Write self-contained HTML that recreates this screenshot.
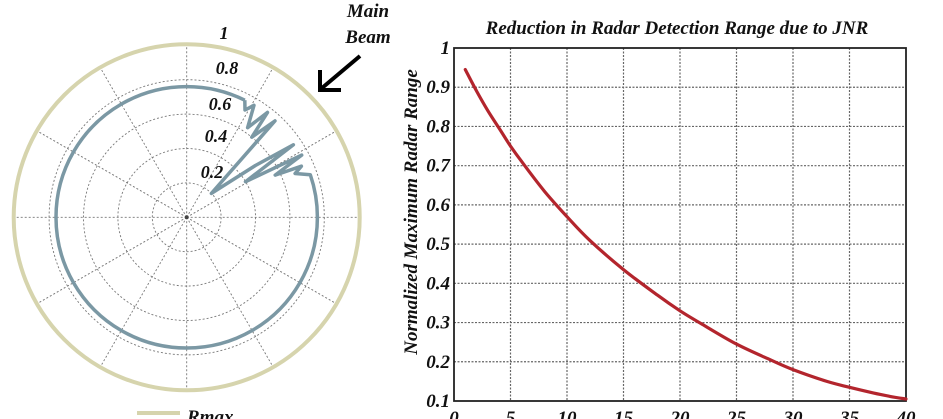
<!DOCTYPE html>
<html><head><meta charset="utf-8">
<style>
html,body{margin:0;padding:0;background:#fff;}
svg{display:block;}
text{font-family:"Liberation Serif",serif;font-style:italic;font-weight:bold;fill:#111;}
</style></head>
<body>
<svg id="chart" width="943" height="419" viewBox="0 0 943 419" xmlns="http://www.w3.org/2000/svg">
  <g id="polar"></g>
  <g id="line"></g>
</svg>
<script>
// ---- Polar chart data ----
const polarRingValues = [0.2, 0.4, 0.6, 0.8];
const polarRingLabels = ["0.2", "0.4", "0.6", "0.8", "1"];
const polarSpokeAngles = [0, 30, 60, 90, 120, 150, 180, 210, 240, 270, 300, 330];
const lobeAngles = [63.6, 61.5, 59, 55.8, 52.4, 50.9, 47.5, 44, 37, 34.2, 31.2, 28.4, 25.5, 24, 22, 19];
const lobeRadii  = [0.76, 0.71, 0.76, 0.63, 0.77, 0.60, 0.76, 0.20, 0.50, 0.75, 0.40, 0.76, 0.57, 0.73, 0.68, 0.76];
const circleAngles = [19, 0, -30, -60, -90, -120, -150, -180, -210, -240, -270, -296.4];
const circleRadii  = [0.76, 0.76, 0.76, 0.76, 0.76, 0.76, 0.76, 0.76, 0.76, 0.76, 0.76, 0.76];
const rmaxValue = [1.0];

// ---- Line chart data ----
const jnrValues = [1, 2, 3, 4, 5, 6, 8, 10, 12, 15, 18, 20, 22, 25, 28, 30, 33, 35, 38, 40];
const rangeValues = [0.945, 0.89, 0.84, 0.795, 0.75, 0.71, 0.635, 0.57, 0.51, 0.435, 0.37, 0.33, 0.295, 0.245, 0.205, 0.18, 0.15, 0.135, 0.115, 0.105];
const xTicks = [0, 5, 10, 15, 20, 25, 30, 35, 40];
const yTicks = [0.1, 0.2, 0.3, 0.4, 0.5, 0.6, 0.7, 0.8, 0.9, 1];
const yTickLabels = ["0.1", "0.2", "0.3", "0.4", "0.5", "0.6", "0.7", "0.8", "0.9", "1"];

const NS = "http://www.w3.org/2000/svg";
function mk(tag, attrs, parent) {
  const e = document.createElementNS(NS, tag);
  for (const k in attrs) e.setAttribute(k, attrs[k]);
  parent.appendChild(e);
  return e;
}

// ---- Polar ----
const P = document.getElementById('polar');
const cx = 186.7, cy = 217.3, R = 172;
function pr(v) { return v * R; }
function px(a, v) { return cx + pr(v) * Math.cos(a * Math.PI / 180); }
function py(a, v) { return cy - pr(v) * Math.sin(a * Math.PI / 180); }

polarRingValues.forEach(v => {
  const c = mk('circle', {cx: cx, cy: cy, r: pr(v), fill: 'none', stroke: '#777', 'stroke-width': 0.9, 'stroke-dasharray': '2,2'}, P);
  
  
});
polarSpokeAngles.forEach(a => {
  const l = mk('line', {x1: cx, y1: cy, x2: px(a, 1.02), y2: py(a, 1.02), stroke: '#777', 'stroke-width': 0.9, 'stroke-dasharray': '2,2'}, P);
  
  
});
const rm = mk('circle', {cx: cx, cy: cy, r: pr(rmaxValue[0]) + 1, fill: 'none', stroke: '#d6d4ad', 'stroke-width': 4}, P);


mk('circle', {cx: cx, cy: cy, r: 2, fill: '#444'}, P);

let pts = [];
lobeAngles.forEach((a, i) => pts.push(px(a, lobeRadii[i]).toFixed(1) + ',' + py(a, lobeRadii[i]).toFixed(1)));
let d = 'M' + pts.join(' L');
for (let i = 1; i < circleAngles.length; i++) {
  const a = circleAngles[i], v = circleRadii[i];
  d += ` A${pr(v)},${pr(v)} 0 0 1 ${px(a, v).toFixed(1)},${py(a, v).toFixed(1)}`;
}
const pat = mk('path', {d: d, fill: 'none', stroke: '#7b98a4', 'stroke-width': 3.5, 'stroke-linejoin': 'round'}, P);



const ringLabelPos = [[212, 178], [216, 142], [220, 110], [227, 74], [224, 39]];
polarRingLabels.forEach((s, i) => {
  const t = mk('text', {x: ringLabelPos[i][0], y: ringLabelPos[i][1], 'text-anchor': 'middle', 'font-size': 18}, P);
  t.textContent = s;
  
  
});
const mb1 = mk('text', {x: 368, y: 17, 'text-anchor': 'middle', 'font-size': 19}, P);
mb1.textContent = 'Main';


const mb2 = mk('text', {x: 368, y: 43, 'text-anchor': 'middle', 'font-size': 19}, P);
mb2.textContent = 'Beam';


const arr = mk('g', {}, P);


mk('line', {x1: 360, y1: 56, x2: 322, y2: 88, stroke: '#000', 'stroke-width': 4}, arr);
mk('polyline', {points: '320,70 320,90 341,90', fill: 'none', stroke: '#000', 'stroke-width': 4}, arr);

const lg = mk('line', {x1: 137, y1: 413, x2: 180, y2: 413, stroke: '#d6d4ad', 'stroke-width': 4}, P);


const lt = mk('text', {x: 187, y: 423, 'font-size': 19}, P);
lt.textContent = 'Rmax';



// ---- Line chart ----
const L = document.getElementById('line');
const x0 = 454, x1 = 906, y0 = 401, y1 = 48;
function sx(v) { return x0 + (v - 0) / 40 * (x1 - x0); }
function sy(v) { return y0 - (v - 0.1) / 0.9 * (y0 - y1); }

xTicks.forEach(v => {
  if (v > 0 && v < 40) {
    const g = mk('line', {x1: sx(v), y1: y1, x2: sx(v), y2: y0, stroke: '#666', 'stroke-width': 1.2, 'stroke-dasharray': '2,1.5'}, L);
    
    
  }
  const t = mk('text', {x: sx(v), y: 424, 'text-anchor': 'middle', 'font-size': 19}, L);
  t.textContent = v;
  
  
});
yTicks.forEach((v, i) => {
  if (v > 0.1 && v < 1) {
    const g = mk('line', {x1: x0, y1: sy(v), x2: x1, y2: sy(v), stroke: '#666', 'stroke-width': 1.2, 'stroke-dasharray': '2,1.5'}, L);
    
    
  }
  const t = mk('text', {x: 450, y: sy(v) + 6, 'text-anchor': 'end', 'font-size': 19}, L);
  t.textContent = yTickLabels[i];
  
  
});
const fr = mk('rect', {x: x0, y: y1, width: x1 - x0, height: y0 - y1, fill: 'none', stroke: '#222', 'stroke-width': 1.8}, L);



// smooth Catmull-Rom path through data points
const cpts = jnrValues.map((v, i) => [sx(v), sy(rangeValues[i])]);
let cd = 'M' + cpts[0][0].toFixed(1) + ',' + cpts[0][1].toFixed(1);
for (let i = 0; i < cpts.length - 1; i++) {
  const p0 = cpts[Math.max(0, i - 1)], p1 = cpts[i], p2 = cpts[i + 1], p3 = cpts[Math.min(cpts.length - 1, i + 2)];
  const c1x = p1[0] + (p2[0] - p0[0]) / 6, c1y = p1[1] + (p2[1] - p0[1]) / 6;
  const c2x = p2[0] - (p3[0] - p1[0]) / 6, c2y = p2[1] - (p3[1] - p1[1]) / 6;
  cd += ` C${c1x.toFixed(1)},${c1y.toFixed(1)} ${c2x.toFixed(1)},${c2y.toFixed(1)} ${p2[0].toFixed(1)},${p2[1].toFixed(1)}`;
}
const curve = mk('path', {d: cd, fill: 'none', stroke: '#b3252d', 'stroke-width': 3.2, 'stroke-linecap': 'round'}, L);



const title = mk('text', {x: 677, y: 34, 'text-anchor': 'middle', 'font-size': 19}, L);
title.textContent = 'Reduction in Radar Detection Range due to JNR';


const yl = mk('text', {x: 0, y: 0, 'text-anchor': 'middle', 'font-size': 19, transform: 'translate(417,212) rotate(-90)'}, L);
yl.textContent = 'Normalized Maximum Radar Range';


</script>
</body></html>
